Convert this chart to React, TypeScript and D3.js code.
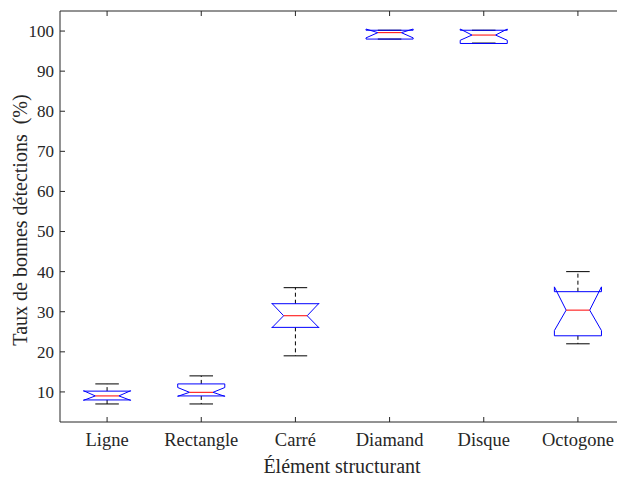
import React from 'react';
import * as d3 from 'd3';

const categories = ['Ligne', 'Rectangle', 'Carré', 'Diamand', 'Disque', 'Octogone'];
const whiskerLow = [7, 7, 19, 98, 97, 22];
const q1 = [8.0, 9.0, 26.1, 98.0, 96.9, 24.0];
const medians = [9.0, 9.9, 29.0, 99.6, 99.0, 30.4];
const q3 = [10.2, 12.0, 32.0, 100.2, 100.2, 35.0];
const whiskerHigh = [12, 14, 36, 100.2, 100.2, 40];
const notchLow = [7.9, 8.9, 26.0, 98.3, 97.7, 25.3];
const notchHigh = [10.3, 11.1, 32.1, 100.5, 100.5, 36.2];
const yTicks = [10, 20, 30, 40, 50, 60, 70, 80, 90, 100];

const W = 617;
const H = 478;
const left = 60;
const right = 625;
const top = 11;
const bottom = 422;
const font = "'Liberation Serif', 'DejaVu Serif', serif";
const axisColor = '#262626';
const ts = { fontFamily: font };

export default function App() {
  const x = d3.scaleLinear().domain([0.5, 6.5]).range([left, right]);
  const y = d3.scaleLinear().domain([2.5, 105]).range([bottom, top]);

  const boxes = categories.map((c, i) => {
    const k = i + 1;
    const xl = x(k - 0.25), xr = x(k + 0.25);
    const il = x(k - 0.125), ir = x(k + 0.125);
    const pts: [number, number][] = [
      [xl, y(q1[i])], [xl, y(notchLow[i])], [il, y(medians[i])], [xl, y(notchHigh[i])],
      [xl, y(q3[i])], [xr, y(q3[i])], [xr, y(notchHigh[i])], [ir, y(medians[i])],
      [xr, y(notchLow[i])], [xr, y(q1[i])],
    ];
    const path = d3.line()(pts) + 'Z';
    return (
      <g key={c}>
        <line x1={x(k)} x2={x(k)} y1={y(q3[i])} y2={y(whiskerHigh[i])} stroke="#000" strokeDasharray="4,3" strokeWidth={1} />
        <line x1={x(k)} x2={x(k)} y1={y(q1[i])} y2={y(whiskerLow[i])} stroke="#000" strokeDasharray="4,3" strokeWidth={1} />
        <line x1={x(k - 0.125)} x2={x(k + 0.125)} y1={y(whiskerHigh[i])} y2={y(whiskerHigh[i])} stroke="#000" strokeWidth={1} />
        <line x1={x(k - 0.125)} x2={x(k + 0.125)} y1={y(whiskerLow[i])} y2={y(whiskerLow[i])} stroke="#000" strokeWidth={1} />
        <path d={path} fill="none" stroke="#0000ff" strokeWidth={1} />
        <line x1={il} x2={ir} y1={y(medians[i])} y2={y(medians[i])} stroke="#ff0000" strokeWidth={1} />
      </g>
    );
  });

  return (
    <svg width={W} height={H} style={{ position: 'absolute', left: 0, top: 0, background: '#fff' }}>
      <rect x={0} y={0} width={W} height={H} fill="#fff" />
      <line x1={left} x2={right} y1={top} y2={top} stroke={axisColor} strokeWidth={1} />
      <line x1={left} x2={right} y1={bottom} y2={bottom} stroke={axisColor} strokeWidth={1} />
      <line x1={left} x2={left} y1={top} y2={bottom} stroke={axisColor} strokeWidth={1} />
      <line x1={right} x2={right} y1={top} y2={bottom} stroke={axisColor} strokeWidth={1} />
      {yTicks.map(t => (
        <g key={t}>
          <line x1={left} x2={left + 5} y1={y(t)} y2={y(t)} stroke={axisColor} />
          <line x1={right} x2={right - 5} y1={y(t)} y2={y(t)} stroke={axisColor} />
          <text x={left - 6} y={y(t)} dy="0.35em" textAnchor="end" fontSize={17} fill="#262626" style={ts}>{t}</text>
        </g>
      ))}
      {categories.map((c, i) => (
        <g key={c}>
          <line x1={x(i + 1)} x2={x(i + 1)} y1={bottom} y2={bottom - 5} stroke={axisColor} />
          <line x1={x(i + 1)} x2={x(i + 1)} y1={top} y2={top + 5} stroke={axisColor} />
          <text x={x(i + 1)} y={446} textAnchor="middle" fontSize={18.5} fill="#262626" style={ts}>{c}</text>
        </g>
      ))}
      {boxes}
      <text x={342} y={473} textAnchor="middle" fontSize={20} fill="#262626" style={ts}>Élément structurant</text>
      <text transform={`translate(27,220) rotate(-90)`} textAnchor="middle" fontSize={20} fill="#262626" style={{ ...ts, whiteSpace: 'pre' }}>{'Taux de bonnes détections  (%)'}</text>
    </svg>
  );
}
